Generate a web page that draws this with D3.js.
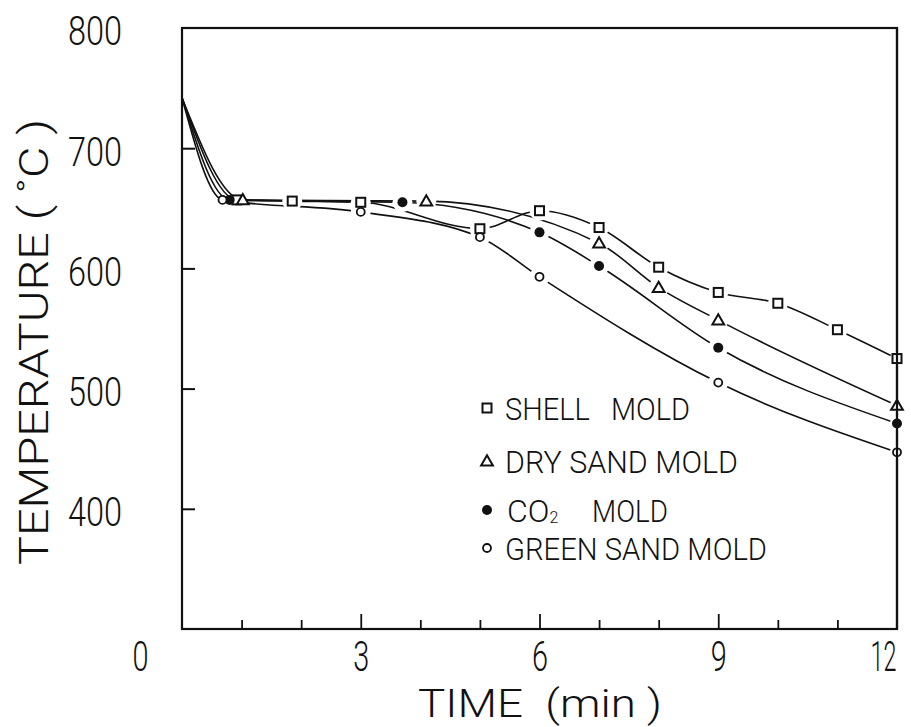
<!DOCTYPE html>
<html><head><meta charset="utf-8">
<script src="https://cdn.jsdelivr.net/npm/d3@7"></script>
<style>
html,body{margin:0;padding:0;background:#fff;}
text{font-family:Roboto,"DejaVu Sans",sans-serif;font-weight:300;fill:#111;white-space:pre;}
</style></head>
<body>
<svg id="c" width="911" height="727"></svg>
<script>
// ---- data ----
const seriesNames = ["SHELL MOLD", "DRY SAND MOLD", "CO2 MOLD", "GREEN SAND MOLD"];
const shellTime  = [0, 0.92, 1.85, 3.0, 5.0, 6.0, 7.0, 8.0, 9.0, 10.0, 11.0, 12.0];
const shellTemp  = [742, 657, 656, 655, 633, 648, 634, 601, 580, 571, 549, 525];
const drySandTime = [0, 1.02, 4.1, 7.0, 8.0, 9.0, 12.0];
const drySandTemp = [742, 657, 656, 621, 584, 557, 486];
const co2Time = [0, 0.8, 3.7, 6.0, 7.0, 9.0, 12.0];
const co2Temp = [742, 657, 655, 630, 602, 534, 471];
const greenTime = [0, 0.68, 3.0, 5.0, 6.0, 9.0, 12.0];
const greenTemp = [742, 657, 647, 626, 593, 505, 447];
const xTicksMajor = [0, 3, 6, 9, 12];
const xTicksMinor = [1, 2, 3, 4, 5, 6, 7, 8, 9, 10, 11];
const yTicks = [400, 500, 600, 700, 800];
const symbols = ["square", "triangle", "dot", "circle"];

const series = [
  {name: seriesNames[0], t: shellTime, v: shellTemp, sym: symbols[0]},
  {name: seriesNames[1], t: drySandTime, v: drySandTemp, sym: symbols[1]},
  {name: seriesNames[2], t: co2Time, v: co2Temp, sym: symbols[2]},
  {name: seriesNames[3], t: greenTime, v: greenTemp, sym: symbols[3]}
];

const svg = d3.select("#c");
const x = d3.scaleLinear().domain([0, 12]).range([182, 897]);
const y = d3.scaleLinear().domain([300, 800]).range([629, 28]);

// frame
svg.append("rect").attr("x", x(0)).attr("y", y(800))
  .attr("width", x(12) - x(0)).attr("height", y(300) - y(800))
  .attr("fill", "none").attr("stroke", "#111").attr("stroke-width", 2.2);

// x axis ticks (inward)
const xMinor = d3.axisTop(x).tickValues(xTicksMinor).tickSize(9).tickFormat("");
svg.append("g").attr("transform", `translate(0,${y(300)})`).call(xMinor)
  .call(g => g.select(".domain").remove())
  .selectAll("line").attr("stroke", "#111").attr("stroke-width", 1.8)
  .attr("y2", d => (d % 3 === 0 ? -15 : -9));

const xLab = d3.axisBottom(x).tickValues(xTicksMajor).tickSize(0).tickPadding(12);
const gx = svg.append("g").attr("transform", `translate(0,${y(300)})`).call(xLab);
gx.select(".domain").remove();
gx.selectAll("text").style("font-size", "42px").attr("fill", "#111")
  .attr("textLength", d => d >= 10 ? 26 : 16).attr("lengthAdjust", "spacingAndGlyphs")
  .attr("dx", d => d === 0 ? -42 : (d === 12 ? -14 : 0));

// y axis ticks (inward) and labels
const yAx = d3.axisRight(y).tickValues(yTicks.filter(v => v < 800)).tickSize(13).tickFormat("");
svg.append("g").attr("transform", `translate(${x(0)},0)`).call(yAx)
  .call(g => g.select(".domain").remove())
  .selectAll("line").attr("stroke", "#111").attr("stroke-width", 2);
const yLab = d3.axisLeft(y).tickValues(yTicks).tickSize(0).tickPadding(60);
const gy = svg.append("g").attr("transform", `translate(${x(0)},0)`).call(yLab);
gy.select(".domain").remove();
gy.selectAll("text").style("font-size", "40px").attr("fill", "#111").attr("dy", "0.42em")
  .attr("textLength", 54).attr("lengthAdjust", "spacingAndGlyphs");

// axis titles
svg.append("text").attr("x", 540).attr("y", 717).attr("text-anchor", "middle")
  .style("font-size", "38px").attr("textLength", 244).attr("lengthAdjust", "spacingAndGlyphs")
  .text("TIME  (min )");
svg.append("text").attr("transform", "translate(48,342) rotate(-90)").attr("text-anchor", "middle")
  .style("font-size", "40px").attr("textLength", 446).attr("lengthAdjust", "spacingAndGlyphs")
  .text("TEMPERATURE ( ˚C )");

// curves
const line = d3.line().x(d => x(d[0])).y(d => y(d[1])).curve(d3.curveMonotoneX);
series.forEach(s => {
  const pts = s.t.map((t, i) => [t, s.v[i]]);
  svg.append("path").datum(pts).attr("d", line)
    .attr("fill", "none").attr("stroke", "#111").attr("stroke-width", 1.6);
});

// marker drawing
function marker(g, sym, cx, cy) {
  if (sym === "square") {
    g.append("rect").attr("x", cx - 4.5).attr("y", cy - 4.5).attr("width", 9).attr("height", 9)
      .attr("fill", "#fff").attr("stroke", "#111").attr("stroke-width", 2);
  } else if (sym === "triangle") {
    const p = d3.symbol().type(d3.symbolTriangle).size(60)();
    g.append("path").attr("d", p).attr("transform", `translate(${cx},${cy + 1})`)
      .attr("fill", "#fff").attr("stroke", "#111").attr("stroke-width", 2);
  } else if (sym === "dot") {
    g.append("circle").attr("cx", cx).attr("cy", cy).attr("r", 5).attr("fill", "#111");
  } else {
    g.append("circle").attr("cx", cx).attr("cy", cy).attr("r", 4).attr("fill", "#fff")
      .attr("stroke", "#111").attr("stroke-width", 1.8);
  }
}

// gaps around markers (not at the start point), then markers
const mg = svg.append("g");
series.forEach(s => {
  s.t.forEach((t, i) => {
    if (i === 0) return;
    if (t < 1.5) return;
    mg.append("circle").attr("cx", x(t)).attr("cy", y(s.v[i])).attr("r", t >= 11.9 ? 7 : 10).attr("fill", "#fff");
  });
});
// redraw frame right edge over gaps
svg.append("line").attr("x1", x(12)).attr("x2", x(12)).attr("y1", y(800)).attr("y2", y(300))
  .attr("stroke", "#111").attr("stroke-width", 2.2);
series.forEach(s => {
  s.t.forEach((t, i) => { if (i > 0) marker(mg, s.sym, x(t), y(s.v[i])); });
});

// legend
const leg = [
  {sym: symbols[0], y: 408, label: "SHELL   MOLD", len: 185},
  {sym: symbols[1], y: 461, label: "DRY SAND MOLD", len: 233},
  {sym: symbols[2], y: 510, label: null, len: 0},
  {sym: symbols[3], y: 548, label: "GREEN SAND MOLD", len: 262}
];
leg.forEach(l => {
  marker(svg, l.sym, 487, l.y);
  if (l.label) {
    svg.append("text").attr("x", 505).attr("y", l.y + 12).style("font-size", "32px")
      .attr("textLength", l.len).attr("lengthAdjust", "spacingAndGlyphs").text(l.label);
  }
});
const co2t = svg.append("text").attr("x", 507).attr("y", 522).style("font-size", "32px");
co2t.append("tspan").text("CO");
co2t.append("tspan").attr("font-size", "16px").attr("dy", 1).text("2");
svg.append("text").attr("x", 592).attr("y", 522).style("font-size", "32px")
  .attr("textLength", 76).attr("lengthAdjust", "spacingAndGlyphs").text("MOLD");
</script>
</body></html>
